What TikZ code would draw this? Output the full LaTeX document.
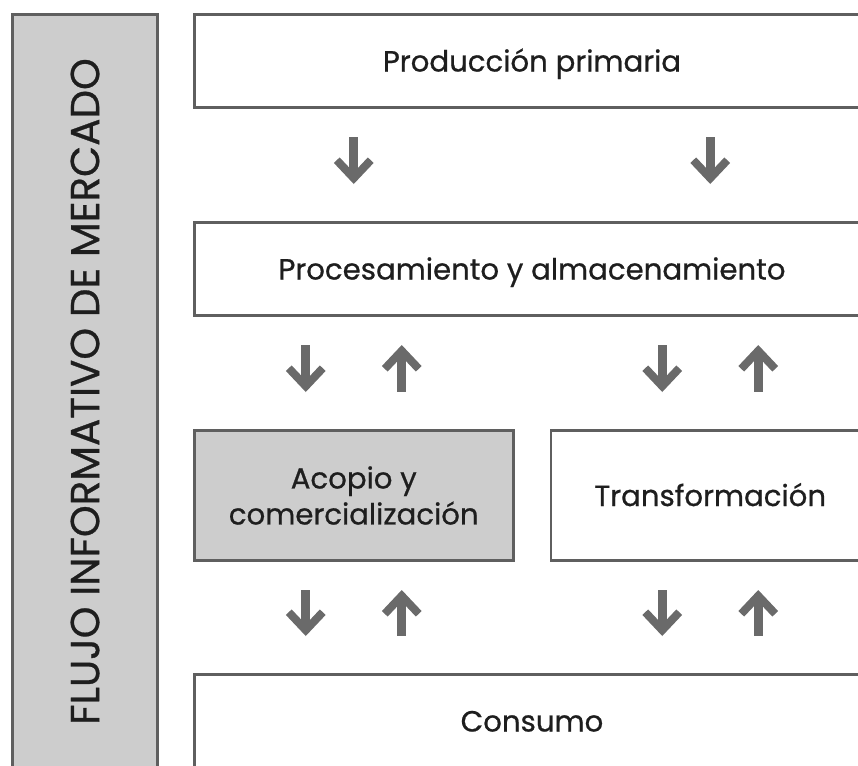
\documentclass[tikz,border=0pt]{standalone}
\usepackage{fontspec}
\setmainfont{Poppins}
\newfontfamily\boxfamily{Poppins}[FakeBold=0.7]
\usetikzlibrary{arrows.meta, positioning}

\definecolor{boxline}{HTML}{5F5F5F}
\definecolor{boxgray}{HTML}{CDCDCD}
\definecolor{arrowgray}{HTML}{6A6A6A}
\definecolor{textblack}{HTML}{1E1E1E}

\newcommand{\boxfont}{\boxfamily\fontsize{14.6}{18}\selectfont}
\newcommand{\sidefont}{\boxfamily\fontsize{20.2}{22}\selectfont}

\begin{document}
\begin{tikzpicture}[
            x=0.5pt, y=-0.5pt,
            node distance=56pt and 17pt,
            box/.style={rectangle, draw=boxline, line width=1.3pt, fill=white, minimum width=337.7pt, minimum height=46.7pt, align=center, inner sep=0pt, text=textblack, font=\boxfont},
            oneline/.style={text height=10.5pt, text depth=0pt},
            half/.style={box, minimum width=159.45pt, minimum height=65.2pt},
            side/.style={box, fill=boxgray, minimum width=72.7pt, minimum height=377.2pt},
            flow/.style={line width=4.5pt, draw=arrowgray, shorten <=14pt, shorten >=18.5pt},
            >={Straight Barb[length=9pt, width=17pt, line width=4pt]}
        ]
        \useasboundingbox (0,0) rectangle (858,766);
        \clip (0,0) rectangle (858,766);

        \node[side, anchor=north west] (flujo) at (11,13) {};
        \node[rotate=90, text=textblack, font=\sidefont] (flujotxt) at (flujo.center) {FLUJO INFORMATIVO DE MERCADO};

        \node[box, oneline, right=17pt of flujo.north east, anchor=north west] (prod) {Producción primaria};
        \node[box, oneline, below=of prod] (proc) {Procesamiento y almacenamiento};
        \node[half, fill=boxgray, below=of proc.south west, anchor=north west] (acopio) {Acopio y\\comercialización};
        \node[half, oneline, below=of proc.south east, anchor=north east] (transf) {Transformación};
        \node[box, oneline, below=55.5pt of acopio.south west, anchor=north west] (consumo) {Consumo};

        % offsets of the down / up arrows in each column
        \foreach \col in {acopio, transf} {
            \coordinate (\col-dn) at ([xshift=-24pt]\col.north);
            \coordinate (\col-up) at ([xshift=24pt]\col.north);
        }

        \foreach \col in {acopio, transf} {
            \draw[flow, ->] (prod.south -| \col.north) -- (proc.north -| \col.north);
            \draw[flow, ->] (proc.south -| \col-dn) -- (\col-dn);
            \draw[flow, <-] (proc.south -| \col-up) -- (\col-up);
            \draw[flow, ->] (\col.south -| \col-dn) -- (consumo.north -| \col-dn);
            \draw[flow, <-] (\col.south -| \col-up) -- (consumo.north -| \col-up);
        }

        \end{tikzpicture}
\end{document}
